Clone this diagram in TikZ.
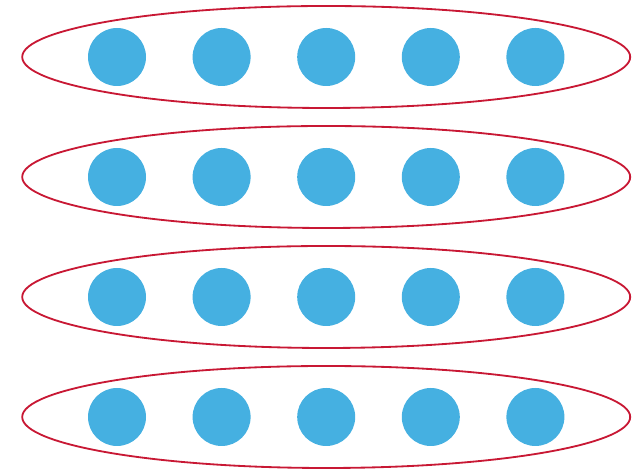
\documentclass[tikz,border=0pt]{standalone}
\usepackage{xcolor}
\usetikzlibrary{shapes.geometric}

\definecolor{dotblue}{RGB}{69,176,225}
\definecolor{ringred}{RGB}{200,24,52}

\begin{document}
\begin{tikzpicture}

\def\dotsize{1.45}
\def\dotgap{2.615} % <-- horizontal spacing
\def\rowsep{3.0}
\def\xzero{2.925}
\def\ytop{10.3}

\tikzset{
    dot/.style={
        circle,
        fill=dotblue,
        minimum size=\dotsize cm,
        inner sep=0pt
    },
    ring/.style={
        ellipse,
        draw=ringred,
        line width=1.3pt,
        minimum width=15.2cm,
        minimum height=2.55cm,
        inner sep=0pt
    }
}

\useasboundingbox (0,0) rectangle (15.925,11.725);

% Rows of dots with their rings
\foreach \r in {0,1,2,3}{
    \node[ring] (ring\r) at ({\xzero+2*\dotgap},{\ytop-\r*\rowsep}) {};
    \foreach \i in {0,...,4}{
        \node[dot] (dot\r\i) at ({\xzero+\i*\dotgap},{\ytop-\r*\rowsep}) {};
    }
}

\end{tikzpicture}
\end{document}
